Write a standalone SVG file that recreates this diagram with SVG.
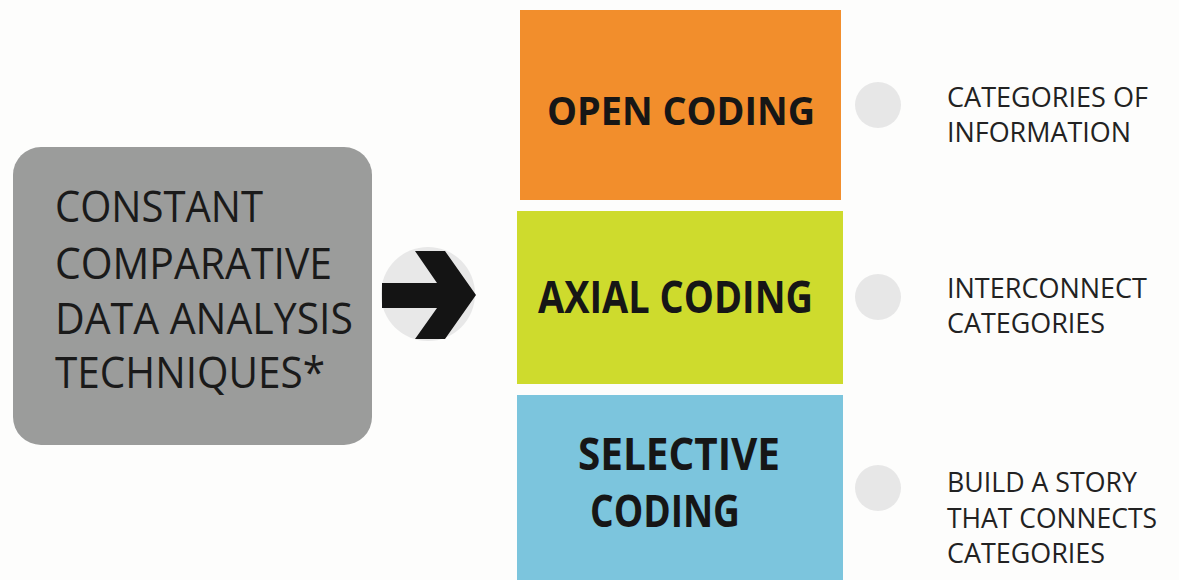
<svg xmlns="http://www.w3.org/2000/svg" width="1179" height="580" viewBox="0 0 1179 580">
  <style>
    .src { font-family: "Open Sans", "Liberation Sans", sans-serif; font-size: 44px; fill: #1a1a1a; }
    .stage { font-family: "Open Sans", "Liberation Sans", sans-serif; font-weight: 700; fill: #161616; }
    .note { font-family: "Open Sans", "Liberation Sans", sans-serif; font-size: 27px; fill: #222222; }
    .dot { fill: #e7e7e7; }
  </style>
  <rect x="0" y="0" width="1179" height="580" fill="#fdfdfc"/>

  <!-- source box -->
  <g id="node-source">
    <rect x="13" y="147" width="359" height="298" rx="28" ry="28" fill="#9b9c9b"/>
    <text class="src" x="55" y="222" textLength="208" lengthAdjust="spacingAndGlyphs">CONSTANT</text>
    <text class="src" x="55" y="279" textLength="277" lengthAdjust="spacingAndGlyphs">COMPARATIVE</text>
    <text class="src" x="55" y="334" textLength="298" lengthAdjust="spacingAndGlyphs">DATA ANALYSIS</text>
    <text class="src" x="55" y="388" textLength="270" lengthAdjust="spacingAndGlyphs">TECHNIQUES*</text>
  </g>

  <!-- arrow badge: shaft joined to a thick chevron head -->
  <g id="connectors">
    <circle cx="428" cy="294" r="47" fill="#e8e8e8"/>
    <path d="M382,283 H437 L415,251 H445 L476,295 L445,339 H415 L437,308 H382 Z" fill="#141414"/>
  </g>

  <!-- coding stages -->
  <g id="node-open">
    <rect x="520" y="10" width="321" height="190" fill="#f28e2c"/>
    <text class="stage" x="547" y="125" font-size="40" textLength="268" lengthAdjust="spacingAndGlyphs">OPEN CODING</text>
  </g>
  <g id="node-axial">
    <rect x="517" y="211" width="326" height="173" fill="#cedb2d"/>
    <text class="stage" x="538" y="313" font-size="45" textLength="275" lengthAdjust="spacingAndGlyphs">AXIAL CODING</text>
  </g>
  <g id="node-selective">
    <rect x="517" y="395" width="326" height="185" fill="#7cc5dd"/>
    <text class="stage" x="578" y="470" font-size="45" textLength="202" lengthAdjust="spacingAndGlyphs">SELECTIVE</text>
    <text class="stage" x="590" y="527" font-size="45" textLength="150" lengthAdjust="spacingAndGlyphs">CODING</text>
  </g>

  <!-- descriptions -->
  <g id="note-open">
    <circle class="dot" cx="878" cy="105" r="23"/>
    <text class="note" x="947" y="107" textLength="201" lengthAdjust="spacingAndGlyphs">CATEGORIES OF</text>
    <text class="note" x="947" y="142" textLength="184" lengthAdjust="spacingAndGlyphs">INFORMATION</text>
  </g>
  <g id="note-axial">
    <circle class="dot" cx="878" cy="297" r="23"/>
    <text class="note" x="947" y="298" textLength="200" lengthAdjust="spacingAndGlyphs">INTERCONNECT</text>
    <text class="note" x="947" y="333" textLength="158" lengthAdjust="spacingAndGlyphs">CATEGORIES</text>
  </g>
  <g id="note-selective">
    <circle class="dot" cx="878" cy="488" r="23"/>
    <text class="note" x="947" y="492" textLength="190" lengthAdjust="spacingAndGlyphs">BUILD A STORY</text>
    <text class="note" x="947" y="528" textLength="210" lengthAdjust="spacingAndGlyphs">THAT CONNECTS</text>
    <text class="note" x="947" y="563" textLength="158" lengthAdjust="spacingAndGlyphs">CATEGORIES</text>
  </g>
</svg>
